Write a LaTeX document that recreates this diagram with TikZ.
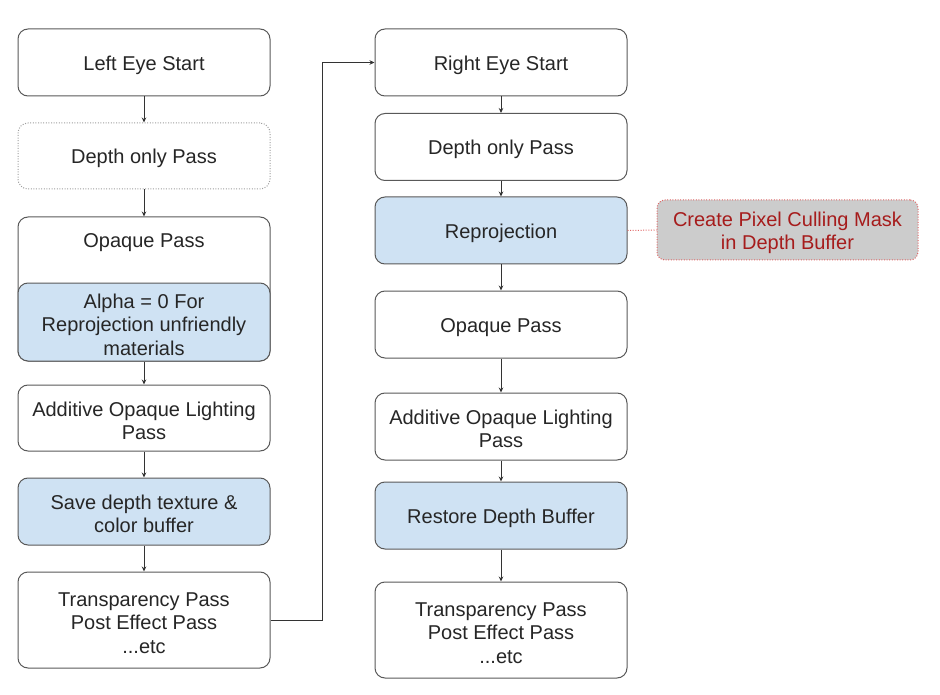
\documentclass[tikz,border=0pt]{standalone}
\usepackage{fontspec}
\setmainfont{Liberation Sans}
\usetikzlibrary{arrows.meta}
\definecolor{edge}{HTML}{595959}
\definecolor{bluefill}{HTML}{CFE2F3}
\definecolor{notefill}{HTML}{CCCCCC}
\definecolor{notetext}{HTML}{A61C1C}
\definecolor{noteedge}{HTML}{E06666}
\definecolor{dotgray}{HTML}{9E9E9E}
\newcommand{\upstrut}{\rule{0pt}{19.6pt}}
\tikzset{
  box/.style={draw=edge, line width=1pt, rounded corners=10pt, fill=white,
    minimum width=252pt, align=center, inner sep=0pt,
    font=\fontsize{20}{23.3}\selectfont, text=black!85},
  bluebox/.style={box, fill=bluefill},
  dotbox/.style={box, draw=dotgray, dash pattern=on 1pt off 1.6pt},
  notebox/.style={draw=noteedge, line width=1pt, dash pattern=on 1pt off 1.6pt,
    rounded corners=8pt, fill=notefill, minimum width=261pt, minimum height=60pt,
    align=center, inner sep=0pt, font=\fontsize{20}{23.3}\selectfont, text=notetext},
  arr/.style={draw=black!80, line width=0.9pt, -{Stealth[length=5pt,width=4.5pt]}},
  lbl/.style={align=center, inner sep=0pt, font=\fontsize{20}{23.3}\selectfont, text=black!85}
}
\begin{document}
\begin{tikzpicture}[x=1pt,y=-1pt]
\useasboundingbox (0,0) rectangle (940,695);
% left column
\node[box, minimum height=67pt] (LES) at (144,62.5) {\upstrut Left Eye Start};
\node[dotbox, minimum height=66pt] (LD) at (144,156) {\upstrut Depth only Pass};
\node[box, minimum height=144pt] (LO) at (144,289) {};
\node[lbl] (LOt) at (144,242.5) {Opaque Pass};
\node[bluebox, minimum height=78pt] (LA) at (144,322) {\upstrut Alpha = 0 For\\Reprojection unfriendly\\materials};
\node[box, minimum height=66pt] (LAdd) at (144,418) {\upstrut Additive Opaque Lighting\\Pass};
\node[bluebox, minimum height=67pt] (LS) at (144,511.5) {\upstrut Save depth texture \&\\color buffer};
\node[box, minimum height=96pt] (LT) at (144,620) {\upstrut Transparency Pass\\Post Effect Pass\\...etc};
% right column
\node[box, minimum height=67pt] (RES) at (501,62.5) {\upstrut Right Eye Start};
\node[box, minimum height=67pt] (RD) at (501,147) {\upstrut Depth only Pass};
\node[bluebox, minimum height=67pt] (RR) at (501,230.5) {\upstrut Reprojection};
\node[box, minimum height=67pt] (RO) at (501,324.5) {\upstrut Opaque Pass};
\node[box, minimum height=67pt] (RAdd) at (501,426.5) {\upstrut Additive Opaque Lighting\\Pass};
\node[bluebox, minimum height=67pt] (RRest) at (501,515.5) {\upstrut Restore Depth Buffer};
\node[box, minimum height=96pt] (RT) at (501,630) {\upstrut Transparency Pass\\Post Effect Pass\\...etc};
% note
\node[notebox] (N) at (787.5,230) {\upstrut Create Pixel Culling Mask\\in Depth Buffer};
% connectors
\draw[arr] (LES) -- (LD);
\draw[arr] (LD) -- (LO);
\draw[arr] (LA) -- (LAdd);
\draw[arr] (LAdd) -- (LS);
\draw[arr] (LS) -- (LT);
\draw[arr] (LT.east) -- ++(52,0) |- (RES.west);
\draw[arr] (RES) -- (RD);
\draw[arr] (RD) -- (RR);
\draw[arr] (RR) -- (RO);
\draw[arr] (RO) -- (RAdd);
\draw[arr] (RAdd) -- (RRest);
\draw[arr] (RRest) -- (RT);
\draw[draw=noteedge, line width=1pt, dash pattern=on 1pt off 1.6pt] (RR.east) -- (N.west);
\end{tikzpicture}
\end{document}
